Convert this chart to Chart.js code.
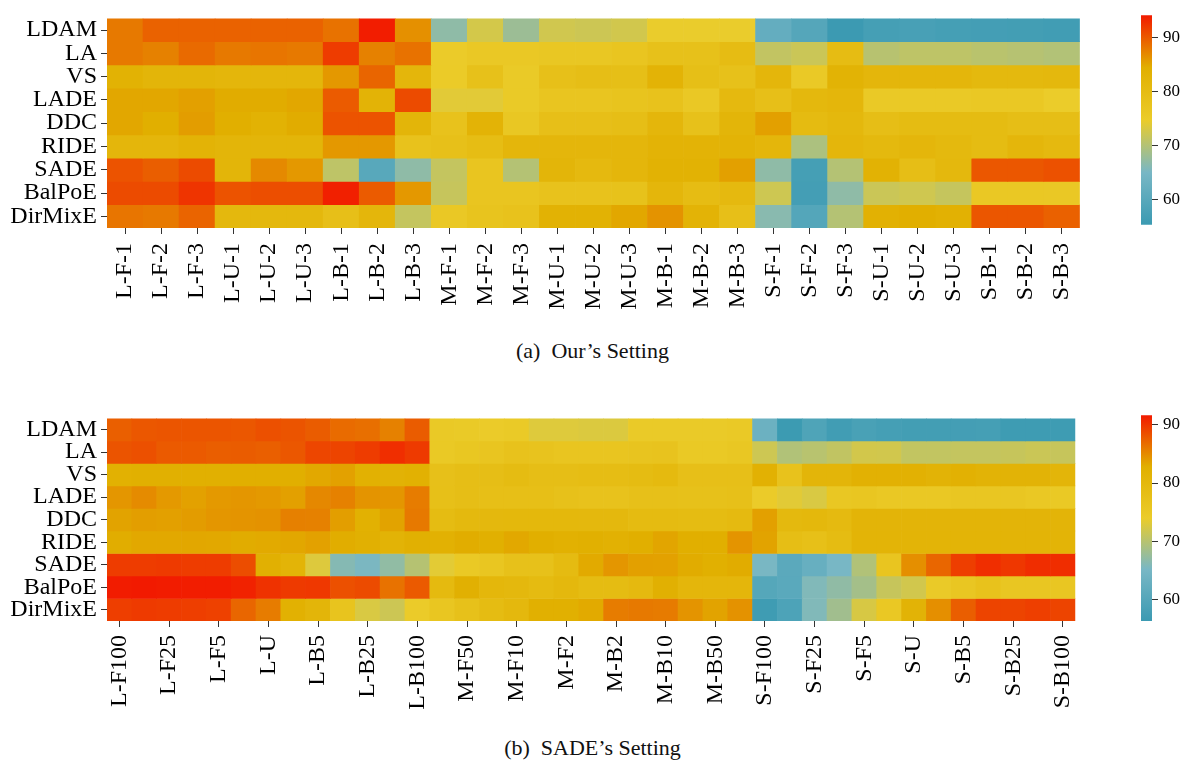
<!DOCTYPE html>
<html>
<head>
<meta charset="utf-8">
<script src="https://cdn.jsdelivr.net/npm/chart.js@4.4.1/dist/chart.umd.min.js"></script>
<style>
  body { margin: 0; background: #fff; width: 1185px; height: 768px; position: relative; overflow: hidden; }
  .box { position: absolute; }
  .cap { position: absolute; left: 0; width: 1185px; text-align: center;
         font-family: "Liberation Serif", serif; font-size: 22px; color: #111; }
</style>
</head>
<body>
<div class="box" style="left:0;top:0;width:1100px;height:330px"><canvas id="topMap"></canvas></div>
<div class="box" style="left:1110px;top:0;width:75px;height:240px"><canvas id="topBar"></canvas></div>
<div class="cap" style="top:338px">(a)&nbsp; Our’s Setting</div>

<div class="box" style="left:0;top:400px;width:1100px;height:330px"><canvas id="bottomMap"></canvas></div>
<div class="box" style="left:1110px;top:400px;width:75px;height:240px"><canvas id="bottomBar"></canvas></div>
<div class="cap" style="top:735px">(b)&nbsp; SADE’s Setting</div>

<script>
// methods (rows)
const methods = ['LDAM', 'LA', 'VS', 'LADE', 'DDC', 'RIDE', 'SADE', 'BalPoE', 'DirMixE'];

// (a) our setting: test distributions
const oursCols = ['L-F-1', 'L-F-2', 'L-F-3', 'L-U-1', 'L-U-2', 'L-U-3', 'L-B-1', 'L-B-2', 'L-B-3',
                  'M-F-1', 'M-F-2', 'M-F-3', 'M-U-1', 'M-U-2', 'M-U-3', 'M-B-1', 'M-B-2', 'M-B-3',
                  'S-F-1', 'S-F-2', 'S-F-3', 'S-U-1', 'S-U-2', 'S-U-3', 'S-B-1', 'S-B-2', 'S-B-3'];
const oursLDAM    = [88.0, 89.5, 89.5, 89.5, 89.5, 89.5, 88.5, 94.0, 86.5, 67.0, 72.8, 68.1, 72.5, 72.2, 72.6, 74.7, 74.7, 74.7, 61.9, 59.5, 55.5, 57.0, 57.5, 57.0, 56.8, 56.6, 56.3];
const oursLA      = [88.0, 87.5, 89.0, 88.0, 88.3, 88.0, 92.0, 87.5, 88.5, 75.0, 76.0, 76.0, 76.5, 76.5, 77.0, 78.5, 78.5, 80.0, 71.3, 72.0, 80.0, 70.4, 71.0, 71.0, 70.6, 70.3, 70.0];
const oursVS      = [83.5, 82.5, 82.5, 82.0, 82.0, 82.0, 86.0, 89.3, 82.0, 75.2, 78.5, 75.5, 78.8, 79.5, 79.2, 83.0, 79.2, 78.5, 82.0, 75.8, 83.3, 82.0, 82.0, 82.0, 81.2, 81.2, 81.5];
const oursLADE    = [85.0, 85.0, 85.5, 84.7, 84.7, 85.0, 90.0, 83.0, 91.0, 74.0, 74.0, 75.5, 77.0, 77.0, 77.5, 78.0, 76.0, 81.0, 79.0, 81.5, 82.0, 75.8, 75.8, 75.8, 76.2, 76.2, 74.8];
const oursDDC     = [85.0, 84.5, 85.7, 84.5, 83.5, 84.7, 90.5, 90.5, 82.5, 78.0, 83.0, 76.5, 79.0, 79.0, 79.5, 82.0, 78.5, 82.5, 85.5, 80.5, 81.5, 79.5, 80.3, 80.3, 80.3, 79.5, 79.5];
const oursRIDE    = [82.0, 82.0, 83.0, 82.5, 82.5, 82.5, 86.0, 86.0, 78.0, 78.8, 79.8, 82.0, 82.0, 82.0, 82.0, 83.0, 83.0, 83.0, 82.0, 69.5, 82.0, 81.3, 82.0, 81.3, 80.3, 82.0, 81.0];
const oursSADE    = [90.5, 89.8, 91.0, 82.5, 87.0, 86.0, 71.0, 60.0, 67.0, 71.5, 77.0, 70.2, 82.5, 81.0, 82.0, 83.5, 83.5, 85.5, 67.0, 57.0, 70.2, 83.5, 79.5, 81.5, 90.2, 90.2, 90.6];
const oursBalPoE  = [91.0, 91.0, 92.5, 90.5, 90.8, 90.8, 93.8, 90.0, 86.0, 71.7, 77.0, 77.0, 78.0, 78.0, 78.2, 82.0, 80.0, 81.0, 72.3, 56.8, 67.0, 72.0, 72.4, 71.6, 76.2, 76.2, 76.0];
const oursDirMixE = [88.3, 88.0, 89.4, 81.5, 81.5, 81.5, 79.0, 82.0, 71.5, 76.0, 77.5, 78.0, 83.5, 83.5, 85.0, 86.3, 83.0, 79.0, 66.5, 59.3, 70.2, 83.7, 84.4, 83.8, 90.3, 90.3, 89.6];
const oursRange = [55.4, 94.2];

// (b) SADE's setting
const sadeCols = ['L-F100', 'L-F50', 'L-F25', 'L-F10', 'L-F5', 'L-F2', 'L-U', 'L-B2', 'L-B5', 'L-B10', 'L-B25', 'L-B50', 'L-B100',
                  'M-F100', 'M-F50', 'M-F25', 'M-F10', 'M-F5', 'M-F2', 'M-U', 'M-B2', 'M-B5', 'M-B10', 'M-B25', 'M-B50', 'M-B100',
                  'S-F100', 'S-F50', 'S-F25', 'S-F10', 'S-F5', 'S-F2', 'S-U', 'S-B2', 'S-B5', 'S-B10', 'S-B25', 'S-B50', 'S-B100'];
const sadeLDAM    = [87.5, 88.0, 88.1, 88.1, 88.1, 88.0, 88.4, 88.2, 87.7, 86.8, 86.6, 85.5, 87.7, 74.8, 74.6, 74.3, 74.6, 73.0, 73.0, 72.8, 72.8, 74.5, 74.5, 74.5, 74.5, 74.8, 63.5, 56.6, 59.3, 57.3, 58.4, 57.8, 57.5, 57.5, 57.7, 57.8, 56.9, 56.9, 56.9];
const sadeLA      = [88.2, 88.4, 87.8, 87.8, 87.6, 87.7, 87.5, 88.0, 89.0, 89.1, 89.6, 90.4, 89.7, 75.0, 75.6, 76.0, 77.0, 76.6, 76.0, 76.0, 76.0, 76.3, 76.6, 75.0, 75.0, 75.4, 71.7, 69.6, 70.1, 70.8, 72.1, 72.0, 70.9, 70.9, 71.0, 71.0, 71.2, 71.5, 71.2];
const sadeVS      = [82.3, 82.5, 82.5, 82.5, 82.5, 82.7, 82.7, 82.7, 83.2, 83.6, 82.3, 81.8, 82.3, 77.5, 78.2, 78.2, 79.0, 78.2, 78.2, 78.7, 78.7, 79.0, 79.6, 77.8, 77.8, 77.8, 82.1, 77.0, 81.0, 81.0, 82.2, 82.2, 82.2, 81.5, 82.2, 81.5, 81.5, 81.5, 81.0];
const sadeLADE    = [84.3, 84.9, 84.1, 83.6, 84.1, 84.3, 84.1, 83.7, 85.1, 85.5, 84.4, 84.3, 85.8, 77.7, 78.2, 77.9, 77.9, 77.9, 77.3, 77.0, 77.0, 77.6, 77.6, 77.3, 77.3, 77.6, 74.2, 73.3, 72.6, 75.5, 75.8, 75.2, 75.2, 75.2, 75.7, 75.7, 75.7, 75.2, 75.0];
const sadeDDC     = [83.5, 83.8, 83.7, 83.9, 84.3, 84.4, 84.5, 85.6, 85.5, 83.8, 82.3, 83.5, 86.0, 79.0, 79.8, 80.0, 80.2, 80.2, 80.2, 80.0, 80.0, 79.2, 79.2, 79.0, 79.0, 79.5, 83.7, 79.8, 80.2, 79.4, 81.2, 81.2, 81.2, 81.2, 81.2, 81.2, 81.2, 81.2, 81.2];
const sadeRIDE    = [82.9, 83.2, 83.2, 83.3, 83.2, 83.0, 83.1, 83.3, 83.6, 82.9, 82.4, 81.5, 82.4, 82.2, 82.9, 82.6, 83.2, 82.8, 82.3, 82.6, 82.2, 82.7, 83.4, 82.7, 82.7, 84.4, 83.5, 78.3, 77.7, 79.0, 81.3, 81.3, 81.3, 81.3, 81.3, 81.3, 81.3, 81.3, 81.3];
const sadeSADE    = [89.6, 89.6, 89.7, 89.6, 89.6, 88.6, 82.4, 81.3, 72.9, 66.2, 65.4, 67.1, 69.9, 73.4, 75.0, 75.8, 77.3, 77.3, 79.2, 83.1, 84.3, 83.7, 83.6, 83.0, 82.5, 83.0, 65.3, 61.0, 62.7, 65.2, 69.6, 76.0, 84.7, 87.1, 89.5, 90.4, 89.9, 90.5, 90.5];
const sadeBalPoE  = [91.5, 91.6, 91.5, 91.4, 91.4, 91.1, 90.2, 89.7, 89.8, 88.4, 88.7, 86.4, 87.8, 79.6, 82.4, 80.5, 80.0, 79.2, 80.0, 79.0, 79.0, 79.7, 82.4, 80.6, 80.6, 80.6, 60.2, 60.9, 65.9, 67.0, 68.6, 71.2, 72.0, 74.5, 75.7, 77.0, 75.7, 75.7, 75.7];
const sadeDirMixE = [89.5, 89.7, 89.6, 89.5, 89.3, 87.1, 85.8, 82.3, 81.0, 76.5, 72.6, 71.6, 74.3, 75.8, 77.3, 79.0, 80.0, 82.6, 82.6, 83.1, 85.8, 86.0, 85.9, 84.4, 83.5, 84.5, 57.0, 59.0, 65.9, 68.3, 72.5, 75.2, 81.5, 84.7, 87.6, 89.1, 89.1, 89.4, 89.1];
const sadeRange = [56.4, 91.6];

const colourTicks = [60, 70, 80, 90];

// Zissou1-like palette
const palette = ['#3B9AB2', '#78B7C5', '#EBCC2A', '#E1AF00', '#F21A00'];
const FONT = '"Liberation Serif", "Times New Roman", serif';
Chart.defaults.font.family = FONT;

function hexRgb(h) {
  return [1, 3, 5].map(i => parseInt(h.slice(i, i + 2), 16));
}
const paletteRgb = palette.map(hexRgb);

function colour(v, lo, hi) {
  let t = (v - lo) / (hi - lo);
  t = Math.max(0, Math.min(1, t));
  const pos = t * (palette.length - 1);
  const i = Math.min(Math.floor(pos), palette.length - 2);
  const f = pos - i;
  const a = paletteRgb[i], b = paletteRgb[i + 1];
  const c = a.map((x, k) => Math.round(x + (b[k] - x) * f));
  return `rgb(${c[0]},${c[1]},${c[2]})`;
}

function heatmap(id, cols, matrix, range, padTop, axisHeight, skip, labelPad) {
  const datasets = matrix.map((vals, r) => ({
    data: vals.map(() => [r - 0.5, r + 0.5]),
    backgroundColor: vals.map(v => colour(v, range[0], range[1])),
    borderWidth: 0,
    barPercentage: 1,
    categoryPercentage: 1,
    grouped: false
  }));

  new Chart(document.getElementById(id), {
    type: 'bar',
    data: { labels: cols, datasets: datasets },
    options: {
      responsive: true,
      maintainAspectRatio: false,
      animation: false,
      layout: { padding: { top: padTop, right: 20, left: 0, bottom: 0 } },
      plugins: { legend: { display: false }, tooltip: { enabled: false } },
      scales: {
        x: {
          grid: { offset: false, drawOnChartArea: false, tickLength: 6, color: '#333' },
          border: { display: false },
          ticks: { autoSkip: false, maxRotation: 90, minRotation: 90, padding: labelPad,
                   color: '#000', font: { family: FONT, size: 24 } },
          afterBuildTicks: axis => {
            if (skip) axis.ticks = axis.ticks.filter((t, i) => i % 2 === 0);
          },
          afterFit: s => { s.height = axisHeight; }
        },
        y: {
          min: -0.5,
          max: 8.5,
          reverse: true,
          grid: { drawOnChartArea: false, tickLength: 6, color: '#333' },
          border: { display: false },
          ticks: { autoSkip: false, padding: 4, color: '#000', font: { family: FONT, size: 24 },
                   callback: v => methods[v] },
          afterBuildTicks: axis => { axis.ticks = methods.map((m, i) => ({ value: i })); },
          afterFit: s => { s.width = 107; }
        }
      }
    }
  });
}

function colourbar(id, range, padTop, padBottom) {
  new Chart(document.getElementById(id), {
    type: 'bar',
    data: {
      labels: [''],
      datasets: [{
        data: [[range[0], range[1]]],
        borderWidth: 0,
        barPercentage: 1,
        categoryPercentage: 1,
        backgroundColor: ctx => {
          const area = ctx.chart.chartArea;
          if (!area) return palette[2];
          const g = ctx.chart.ctx.createLinearGradient(0, area.bottom, 0, area.top);
          palette.forEach((c, i) => g.addColorStop(i / (palette.length - 1), c));
          return g;
        }
      }]
    },
    options: {
      responsive: true,
      maintainAspectRatio: false,
      animation: false,
      layout: { padding: { top: padTop, bottom: padBottom, left: 31, right: 0 } },
      plugins: { legend: { display: false }, tooltip: { enabled: false } },
      scales: {
        x: { display: false },
        y: {
          position: 'right',
          min: range[0],
          max: range[1],
          grid: { drawOnChartArea: false, tickLength: 6, color: '#333' },
          border: { display: false },
          ticks: { padding: 5, color: '#000', font: { family: FONT, size: 17 } },
          afterBuildTicks: axis => { axis.ticks = colourTicks.map(v => ({ value: v })); },
          afterFit: s => { s.width = 33; }
        }
      }
    }
  });
}

heatmap('topMap', oursCols,
  [oursLDAM, oursLA, oursVS, oursLADE, oursDDC, oursRIDE, oursSADE, oursBalPoE, oursDirMixE],
  oursRange, 5, 102, false, 9);
colourbar('topBar', oursRange, 5, 12);

heatmap('bottomMap', sadeCols,
  [sadeLDAM, sadeLA, sadeVS, sadeLADE, sadeDDC, sadeRIDE, sadeSADE, sadeBalPoE, sadeDirMixE],
  sadeRange, 6, 109, true, 8);
colourbar('bottomBar', sadeRange, 6, 19);
</script>
</body>
</html>
